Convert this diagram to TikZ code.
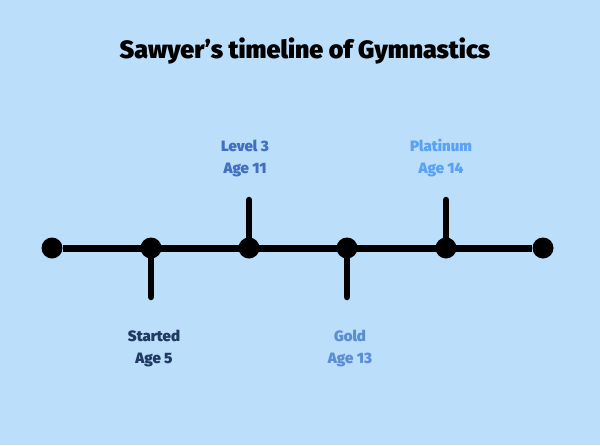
\documentclass[tikz,border=0pt]{standalone}
\usepackage{fontspec}
\setmainfont{Fira Sans}[BoldFont={Fira Sans Black}]
\usetikzlibrary{positioning}

\definecolor{bgblue}{RGB}{187,222,251}
\definecolor{startcol}{RGB}{33,58,98}
\definecolor{levelcol}{RGB}{66,112,192}
\definecolor{goldcol}{RGB}{92,142,212}
\definecolor{platcol}{RGB}{92,162,242}

\tikzset{
    dot/.style={circle, fill=black, inner sep=0pt, minimum size=21pt},
    tick/.style={line width=6.5pt, line cap=round},
    label/.style={font=\fontsize{15}{22}\selectfont\bfseries, align=center}
}

\begin{document}
\begin{tikzpicture}[x=1pt, y=-1pt]
    \fill[bgblue] (0,0) rectangle (600,445);
    \useasboundingbox (0,0) rectangle (600,445);

    \node[font=\fontsize{25}{28}\selectfont\bfseries] (title) at (305,51) {Sawyer's timeline of Gymnastics};

    % dots on the line
    \node[dot] (P0) at (52,248) {};
    \node[dot] (P1) at (151,248) {};
    \node[dot] (P2) at (249,248) {};
    \node[dot] (P3) at (347,248) {};
    \node[dot] (P4) at (446,248) {};
    \node[dot] (P5) at (543,248) {};

    \draw[line width=7pt] (P0) -- (P5);

    % tick ends
    \coordinate (T1) at (151,297);
    \coordinate (T2) at (249,200);
    \coordinate (T3) at (347,297);
    \coordinate (T4) at (446,200);

    \draw[tick] (P1.center) -- (T1);
    \draw[tick] (P2.center) -- (T2);
    \draw[tick] (P3.center) -- (T3);
    \draw[tick] (P4.center) -- (T4);

    % labels
    \node[label, text=startcol] (L1) at (154,348) {Started\\Age 5};
    \node[label, text=levelcol] (L2) at (245,158) {Level 3\\Age 11};
    \node[label, text=goldcol] (L3) at (350,348) {Gold\\Age 13};
    \node[label, text=platcol] (L4) at (441,158) {Platinum\\Age 14};
\end{tikzpicture}
\end{document}
